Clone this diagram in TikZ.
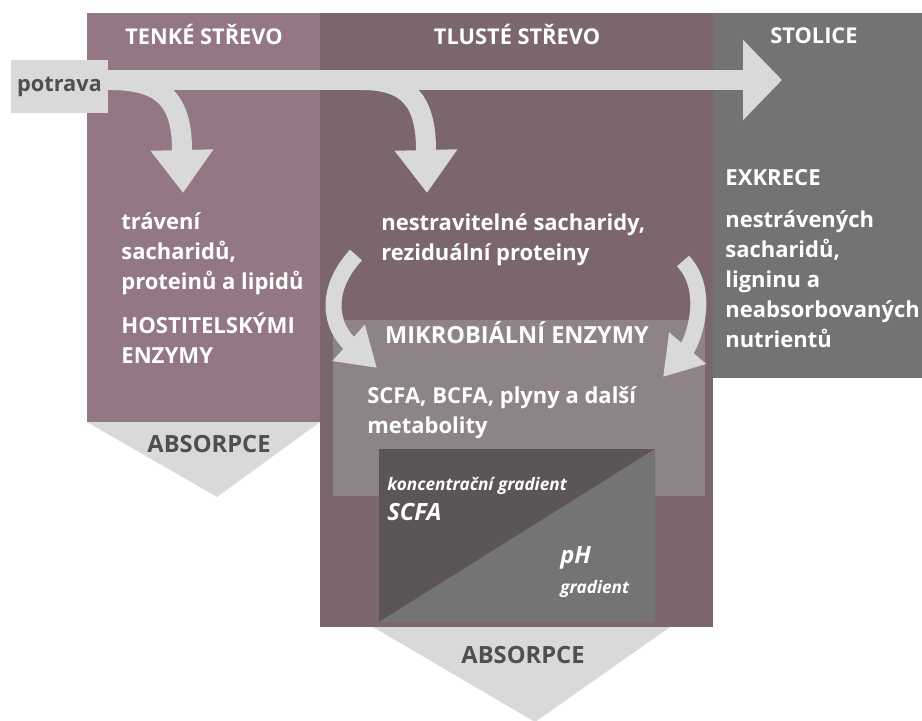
\documentclass[tikz,border=0pt]{standalone}
\usepackage{fontspec}
\setmainfont{Open Sans}
\usetikzlibrary{arrows.meta,positioning}

\definecolor{tenke}{HTML}{937785}
\definecolor{tluste}{HTML}{7B6670}
\definecolor{stolice}{HTML}{737373}
\definecolor{mikro}{HTML}{8D8388}
\definecolor{gradtmavy}{HTML}{5B5558}
\definecolor{gradsvetly}{HTML}{747474}
\definecolor{svetla}{HTML}{D9D9D9}
\definecolor{tmavytext}{HTML}{4F4F4F}

\begin{document}
\begin{tikzpicture}[
    x=0.02cm, y=-0.02cm,
    head/.style={font=\bfseries\fontsize{12.4}{14}\selectfont, text=white, anchor=base, inner sep=0pt},
    caps/.style={font=\bfseries\fontsize{12.6}{17}\selectfont, text=white, align=left, anchor=base west, inner sep=0pt},
    body/.style={font=\bfseries\fontsize{12.5}{17}\selectfont, text=white, align=left, anchor=base west, inner sep=0pt},
    note/.style={font=\bfseries\itshape\fontsize{9.8}{11}\selectfont, text=white, anchor=base west, inner sep=0pt},
    big/.style={font=\bfseries\itshape\fontsize{13.5}{16}\selectfont, text=white, anchor=base west, inner sep=0pt},
    absorb/.style={font=\bfseries\fontsize{13.5}{15}\selectfont, text=tmavytext, anchor=base, inner sep=0pt},
    foodbox/.style={rectangle, fill=svetla, minimum width=1.94cm, minimum height=1.06cm, font=\bfseries\fontsize{12.4}{14}\selectfont, text=tmavytext},
    flow/.style={draw=svetla, line width=0.4cm, -{Triangle[width=1.2cm, length=0.86cm]}},
    mainflow/.style={draw=svetla, line width=0.4cm, -{Triangle[width=1.56cm, length=0.78cm]}},
    curvearrow/.style={draw=svetla, line width=0.32cm, -{Triangle[width=0.92cm, length=0.76cm]}}
]
    \useasboundingbox (0,0) rectangle (922,720);

    % absorption wedges (behind the panels)
    \fill[svetla] (87,422) -- (320,422) -- (217,497) -- cycle;
    \fill[svetla] (373,627) -- (670,627) -- (535,722) -- cycle;

    % panels
    \fill[tenke] (87,13) rectangle (320,422);
    \fill[tluste] (320,13) rectangle (713,627);
    \fill[stolice] (713,13) rectangle (922,378);
    \fill[mikro] (333,320) rectangle (705,496);

    % gradient square
    \fill[gradtmavy] (379,449) rectangle (655,622);
    \fill[gradsvetly] (379,622) -- (655,449) -- (655,622) -- cycle;

    % headings
    \node[head] (tenkehead) at (204,44) {TENKÉ STŘEVO};
    \node[head] (tlustehead) at (517,44) {TLUSTÉ STŘEVO};
    \node[head] (stolicehead) at (814,43) {STOLICE};

    % food flow
    \node[foodbox] (potrava) at (59.5,86.5) {potrava};
    \coordinate (bandstart) at (100,80);
    \coordinate (stolicetip) at (782,80);
    \coordinate (tenketip) at (183,193);
    \coordinate (tlustetip) at (427,193);
    \draw[mainflow] (bandstart) -- (stolicetip);
    \draw[flow] (110,80) .. controls (162,80) and (182,100) .. (182,150) -- (tenketip);
    \draw[flow] (362,80) .. controls (407,80) and (426,100) .. (426,150) -- (tlustetip);

    % texts (base = last line)
    \node[body] (traveni) at (121,289) {trávení\\sacharidů,\\proteinů a lipidů};
    \node[caps] (hostitel) at (121,363) {HOSTITELSKÝMI\\ENZYMY};
    \node[body] (nestrav) at (381,260) {nestravitelné sacharidy,\\reziduální proteiny};
    \node[caps] (exkrece) at (725,185) {EXKRECE};
    \node[body] (nestraven) at (725,347) {nestrávených\\sacharidů,\\ligninu a\\neabsorbovaných\\nutrientů};
    \node[caps, font=\bfseries\fontsize{13.4}{15}\selectfont, anchor=base] (mikroenz) at (517,343) {MIKROBIÁLNÍ ENZYMY};
    \node[body] (metabolity) at (367,433) {SCFA, BCFA, plyny a další\\metabolity};

    % curved arrows into the microbial box
    \coordinate (levytip) at (377,368);
    \coordinate (pravytip) at (663,377);
    \draw[curvearrow] (356,255) .. controls (322,292) and (332,328) .. (levytip);
    \draw[curvearrow] (683,261) .. controls (712,292) and (692,343) .. (pravytip);

    % gradient labels
    \node[note] (konc) at (387,490) {koncentrační gradient};
    \node[big] (scfa) at (387,520) {SCFA};
    \node[big] (ph) at (560,563) {pH};
    \node[note] (phgrad) at (560,593) {gradient};

    % absorption labels
    \node[absorb] (absorb1) at (209,452) {ABSORPCE};
    \node[absorb] (absorb2) at (523,663) {ABSORPCE};
\end{tikzpicture}
\end{document}
